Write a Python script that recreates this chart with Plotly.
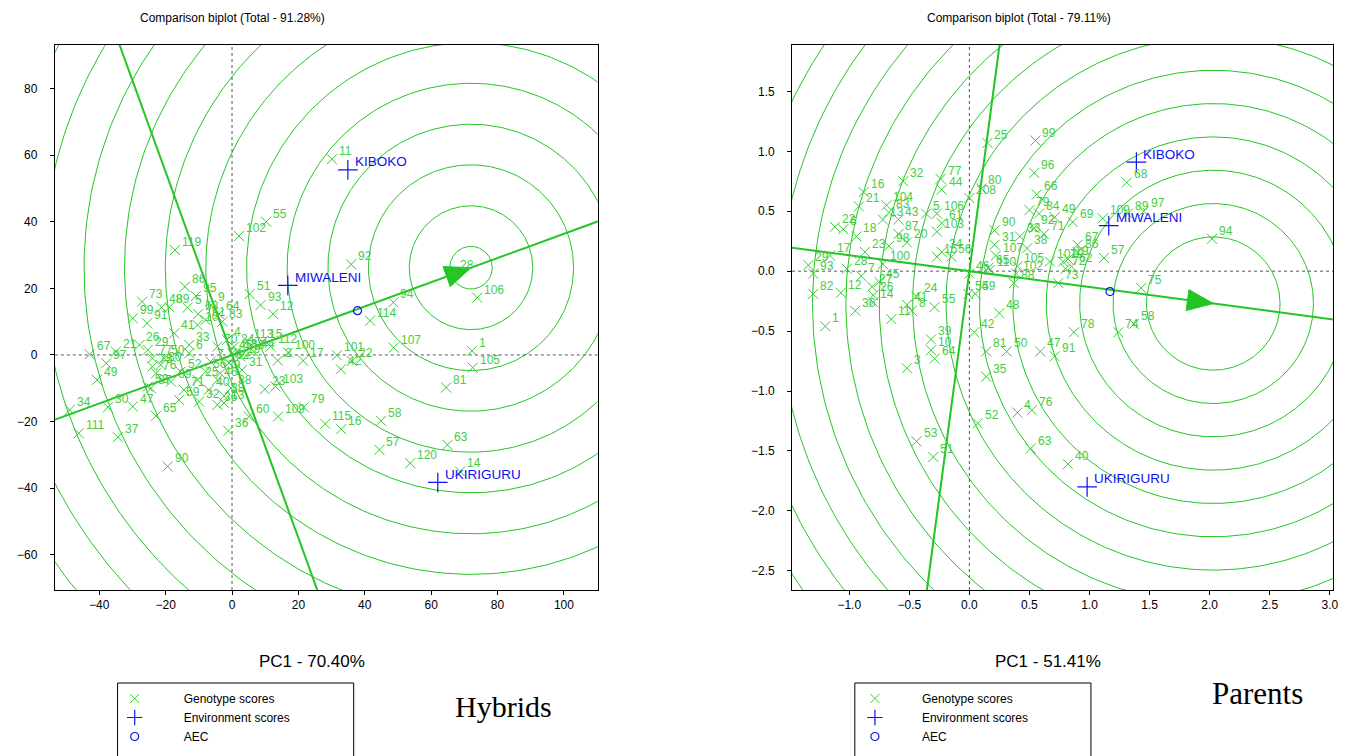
import numpy as np
import plotly.graph_objects as go

# ---------------- Hybrids (left) ----------------
H_LABELS = ["11","92","94","114","28","106","107","1","105","81","101","22","42","17","100","2","103","23",
            "60","109","79","36","115","16","58","57","120","63","14","55","102","51","93","12","119","86",
            "95","73","48","89","5","9","99","91","10","41","64","83","68","67","21","97","49","26","29","77",
            "50","80","6","33","76","75","53","87","69","25","46","56","59","32","65","47","30","34","111","37",
            "90","35","13","38","88","70","24","113","15","112","19","62","18","43","45","40","4","7","31","39",
            "44","52","61","71"]
H_PC1 = [30.1,35.9,48.6,41.6,66.5,73.9,48.7,72.3,72.5,64.5,31.6,36.1,32.8,21.4,16.9,13.8,13.1,9.9,
         5.1,13.9,21.6,-1.1,28.1,32.9,44.9,44.4,53.7,64.9,68.7,10.3,2.1,5.3,8.6,12.4,-17.2,-14.2,
         -10.9,-27.1,-21.2,-18.9,-13.4,-6.4,-29.9,-25.6,-10.4,-17.4,-3.9,-2.9,-10.2,-42.9,-35.0,-37.9,-40.7,-27.9,-25.4,-24.0,
         -20.4,-21.5,-12.9,-12.9,-22.9,-24.0,-25.4,-24.4,-18.4,-10.4,-4.4,-7.9,-16.0,-9.9,-22.9,-29.9,-37.4,-48.9,-46.2,-34.4,
         -19.4,-4.4,-2.4,-2.4,-0.3,-4.4,0.6,4.6,9.1,11.6,2.5,-0.9,1.5,3.5,0.0,-7.0,-1.5,-6.5,3.0,-3.5,
         6.5,-15.5,-8.0,-14.5]
H_PC2 = [58.8,27.2,15.8,10.3,24.6,17.2,2.2,1.2,-3.8,-9.8,-0.1,-1.8,-4.3,-1.7,0.7,-1.7,-9.5,-10.3,
         -18.5,-18.5,-15.7,-22.8,-20.7,-22.3,-19.8,-28.5,-32.5,-27.0,-35.0,40.0,35.7,18.3,15.0,12.3,31.5,20.5,
         17.7,16.0,14.3,14.3,14.2,15.0,11.0,9.5,9.0,6.5,12.3,10.0,12.3,0.2,1.0,-2.5,-7.5,3.0,1.5,-1.0,
         -1.0,-3.0,0.5,3.0,-5.5,-3.5,-9.5,-10.0,-8.0,-7.5,-7.5,-5.0,-13.5,-14.0,-18.3,-15.5,-15.7,-16.5,-23.5,-24.7,
         -33.5,-15.0,-14.4,-12.3,-9.9,2.5,2.5,4.0,4.0,2.5,-0.5,-2.4,1.0,0.5,0.5,-10.5,4.5,-2.0,-4.5,-5.5,
         1.0,-5.0,10.5,-10.5]
H_ENV = ["KIBOKO", "MIWALENI", "UKIRIGURU"]
H_ENV_PC1 = [34.9, 16.8, 62.0]
H_ENV_PC2 = [55.6, 20.9, -38.3]
H_AEC = [37.8, 13.3]
H_IDEAL = [72.0, 26.2]
H_RINGS = [6.4, 18.6, 30.9, 43.1, 55.4, 67.6, 79.9, 92.1, 104.4, 116.6, 128.9, 141.1, 153.4, 165.6]
H_XTICKS = [-40, -20, 0, 20, 40, 60, 80, 100]
H_YTICKS = [-60, -40, -20, 0, 20, 40, 60, 80]

# ---------------- Parents (right) ----------------
P_LABELS = ["16","21","32","104","83","13","43","5","22","6","18","87","20","98","17","23","100","29","93","28",
            "7","45","27","82","12","26","24","1","36","14","11","41","8","55","39","10","64","3","53","51",
            "25","99","77","44","80","108","96","66","79","84","49","69","109","90","33","92","71","31","38","107",
            "110","105","102","101","88","73","67","86","57","62","72","70","19","15","56","106","61","103","34","46",
            "65","54","59","48","42","81","50","47","91","78","35","4","76","52","63","40","68","89","97","94",
            "75","58","74"]
P_PC1 = [-0.88,-0.92,-0.55,-0.69,-0.67,-0.72,-0.59,-0.36,-1.12,-1.05,-0.94,-0.59,-0.52,-0.67,-1.16,-0.87,-0.72,-1.34,-1.30,-1.02,
         -0.90,-0.75,-0.81,-1.30,-1.07,-0.80,-0.44,-1.20,-0.95,-0.80,-0.65,-0.52,-0.48,-0.29,-0.32,-0.32,-0.29,-0.52,-0.44,-0.30,
         0.15,0.55,-0.24,-0.23,0.10,0.00,0.54,0.56,0.50,0.58,0.71,0.86,1.11,0.21,0.42,0.54,0.62,0.21,0.48,0.22,
         0.17,0.40,0.39,0.67,0.37,0.74,0.90,0.90,1.12,0.85,0.80,0.78,0.82,-0.27,-0.15,-0.27,-0.23,-0.27,-0.23,0.00,
         0.16,-0.01,0.05,0.25,0.04,0.14,0.31,0.59,0.71,0.87,0.14,0.40,0.52,0.07,0.51,0.82,1.31,1.32,1.45,2.02,
         1.43,1.37,1.24]
P_PC2 = [0.66,0.54,0.75,0.55,0.49,0.43,0.43,0.48,0.37,0.35,0.29,0.31,0.24,0.21,0.13,0.16,0.06,0.05,-0.02,0.02,
         -0.04,-0.09,-0.13,-0.19,-0.18,-0.20,-0.21,-0.46,-0.33,-0.26,-0.40,-0.28,-0.33,-0.30,-0.57,-0.66,-0.73,-0.81,-1.42,-1.55,
         1.07,1.09,0.77,0.68,0.69,0.61,0.82,0.64,0.51,0.48,0.45,0.41,0.44,0.34,0.29,0.36,0.31,0.22,0.19,0.13,
         0.01,0.04,-0.02,0.08,-0.10,-0.10,0.22,0.16,0.11,0.04,0.02,0.08,0.10,0.12,0.12,0.48,0.40,0.33,0.16,-0.02,
         0.03,-0.19,-0.19,-0.35,-0.51,-0.67,-0.67,-0.67,-0.71,-0.51,-0.88,-1.18,-1.16,-1.27,-1.48,-1.61,0.74,0.48,0.50,0.27,
         -0.14,-0.44,-0.51]
P_ENV = ["KIBOKO", "MIWALENI", "UKIRIGURU"]
P_ENV_PC1 = [1.39, 1.16, 0.98]
P_ENV_PC2 = [0.91, 0.38, -1.80]
P_AEC = [1.17, -0.17]
P_IDEAL = [2.03, -0.27]
P_RINGS = [0.556, 0.834, 1.112, 1.390, 1.668, 1.946, 2.224, 2.502, 2.780, 3.058, 3.336, 3.614, 3.892, 4.170]
P_XTICKS = [-1.0, -0.5, 0.0, 0.5, 1.0, 1.5, 2.0, 2.5, 3.0]
P_YTICKS = [-2.5, -2.0, -1.5, -1.0, -0.5, 0.0, 0.5, 1.0, 1.5]

GREEN = "#33CC33"
LABELG = "#44CC44"
LINEG = "#22C522"
BLUE = "#1010F0"
FONT = "Arial, Liberation Sans, sans-serif"

W, Hh = 1352, 756
panels = [
    dict(px0=55, px1=600, xr=[-53.4, 110.2], yr=[-70.6, 93.1]),
    dict(px0=795, px1=1338, xr=[-1.476, 3.027], yr=[-2.66, 1.887]),
]
py0, py1 = 45, 590

fig = go.Figure()


def add_panel(idx, labels, pc1, pc2, env, epc1, epc2, aec, ideal, rings, arrow_len, arrow_hw, legend_name):
    xa = "x" if idx == 0 else "x2"
    ya = "y" if idx == 0 else "y2"
    xr = panels[idx]["xr"]
    yr = panels[idx]["yr"]
    t = np.linspace(0, 2 * np.pi, 361)
    cx, cy = ideal
    # concentric circles
    for r in rings:
        fig.add_trace(go.Scatter(x=cx + r * np.cos(t), y=cy + r * np.sin(t), mode="lines",
                                 line=dict(color=LINEG, width=1), xaxis=xa, yaxis=ya,
                                 showlegend=False, hoverinfo="skip"))
    # dotted axes
    fig.add_trace(go.Scatter(x=[xr[0], xr[1]], y=[0, 0], mode="lines",
                             line=dict(color="#555555", width=1, dash="dot"), xaxis=xa, yaxis=ya,
                             showlegend=False, hoverinfo="skip"))
    fig.add_trace(go.Scatter(x=[0, 0], y=[yr[0], yr[1]], mode="lines",
                             line=dict(color="#555555", width=1, dash="dot"), xaxis=xa, yaxis=ya,
                             showlegend=False, hoverinfo="skip"))
    # AEC abscissa (through origin and ideal point) and ordinate
    u = np.array(ideal) / np.hypot(*ideal)
    n = np.array([-u[1], u[0]])
    big = 10 * max(abs(xr[0]), abs(xr[1]), abs(yr[0]), abs(yr[1]))
    fig.add_trace(go.Scatter(x=[-big * u[0], big * u[0]], y=[-big * u[1], big * u[1]], mode="lines",
                             line=dict(color=LINEG, width=2), xaxis=xa, yaxis=ya,
                             showlegend=False, hoverinfo="skip"))
    fig.add_trace(go.Scatter(x=[-big * n[0], big * n[0]], y=[-big * n[1], big * n[1]], mode="lines",
                             line=dict(color=LINEG, width=2), xaxis=xa, yaxis=ya,
                             showlegend=False, hoverinfo="skip"))
    # arrow head at ideal point
    tip = np.array(ideal)
    base = tip - arrow_len * u
    tri = np.array([tip, base + arrow_hw * n, base - arrow_hw * n, tip])
    fig.add_trace(go.Scatter(x=tri[:, 0], y=tri[:, 1], mode="lines", fill="toself",
                             fillcolor=LINEG, line=dict(color=LINEG, width=1), xaxis=xa, yaxis=ya,
                             showlegend=False, hoverinfo="skip"))
    # genotypes
    fig.add_trace(go.Scatter(x=pc1, y=pc2, mode="markers",
                             marker=dict(symbol="x-thin", size=10, line=dict(color=GREEN, width=1)),
                             xaxis=xa, yaxis=ya, showlegend=False))
    for lab, gx, gy in zip(labels, pc1, pc2):
        fig.add_annotation(x=gx, y=gy, xref=xa, yref=ya, text=lab, showarrow=False,
                           xanchor="left", yanchor="middle", xshift=5, yshift=8,
                           font=dict(family=FONT, size=12, color=LABELG))
    # environments
    fig.add_trace(go.Scatter(x=epc1, y=epc2, mode="markers",
                             marker=dict(symbol="cross-thin", size=14, line=dict(color=BLUE, width=1.2)),
                             xaxis=xa, yaxis=ya, showlegend=False))
    for lab, gx, gy in zip(env, epc1, epc2):
        fig.add_annotation(x=gx, y=gy, xref=xa, yref=ya, text=lab, showarrow=False,
                           xanchor="left", yanchor="middle", xshift=5, yshift=8,
                           font=dict(family=FONT, size=13.5, color=BLUE))
    # AEC point
    fig.add_trace(go.Scatter(x=[aec[0]], y=[aec[1]], mode="markers",
                             marker=dict(symbol="circle-open", size=8, color=BLUE, line=dict(width=1.2)),
                             xaxis=xa, yaxis=ya, showlegend=False))
    # legend-only entries
    fig.add_trace(go.Scatter(x=[None], y=[None], mode="markers", name="Genotype scores",
                             marker=dict(symbol="x-thin", size=9, line=dict(color=GREEN, width=1)),
                             xaxis=xa, yaxis=ya, legend=legend_name))
    fig.add_trace(go.Scatter(x=[None], y=[None], mode="markers", name="Environment scores",
                             marker=dict(symbol="cross-thin", size=11, line=dict(color=BLUE, width=1.2)),
                             xaxis=xa, yaxis=ya, legend=legend_name))
    fig.add_trace(go.Scatter(x=[None], y=[None], mode="markers", name="AEC",
                             marker=dict(symbol="circle-open", size=8, color=BLUE, line=dict(width=1.2)),
                             xaxis=xa, yaxis=ya, legend=legend_name))


add_panel(0, H_LABELS, H_PC1, H_PC2, H_ENV, H_ENV_PC1, H_ENV_PC2, H_AEC, H_IDEAL, H_RINGS,
          7.8, 3.2, "legend")
add_panel(1, P_LABELS, P_PC1, P_PC2, P_ENV, P_ENV_PC1, P_ENV_PC2, P_AEC, P_IDEAL, P_RINGS,
          0.216, 0.088, "legend2")

axis_common = dict(showgrid=False, zeroline=False, showline=True, linecolor="black", linewidth=1,
                   mirror=True, ticks="outside", ticklen=4, tickcolor="black",
                   tickfont=dict(family=FONT, size=12, color="black"))

ydom = [1 - py1 / Hh, 1 - py0 / Hh]
fig.update_layout(
    width=W, height=Hh, margin=dict(l=0, r=0, t=0, b=0),
    paper_bgcolor="white", plot_bgcolor="white",
    xaxis=dict(domain=[panels[0]["px0"] / W, panels[0]["px1"] / W], range=panels[0]["xr"],
               tickvals=H_XTICKS, anchor="y", **axis_common),
    yaxis=dict(domain=ydom, range=panels[0]["yr"], tickvals=H_YTICKS, anchor="x",
               ticklabelstandoff=10, **axis_common),
    xaxis2=dict(domain=[panels[1]["px0"] / W, panels[1]["px1"] / W], range=panels[1]["xr"],
                tickvals=P_XTICKS, tickformat=".1f", anchor="y2", **axis_common),
    yaxis2=dict(domain=ydom, range=panels[1]["yr"], tickvals=P_YTICKS, tickformat=".1f", anchor="x2",
                ticklabelstandoff=10, **axis_common),
    legend=dict(x=86 / W, y=1 - 684 / Hh, xanchor="left", yanchor="top", itemwidth=88,
                font=dict(family=FONT, size=12, color="black"), bgcolor="rgba(0,0,0,0)",
                tracegroupgap=0),
    legend2=dict(x=831 / W, y=1 - 684 / Hh, xanchor="left", yanchor="top", itemwidth=84,
                 font=dict(family=FONT, size=12, color="black"), bgcolor="rgba(0,0,0,0)",
                 tracegroupgap=0),
    showlegend=True,
)

annots = [
    dict(text="Comparison biplot (Total - 91.28%)", x=233 / W, y=1 - 18 / Hh, size=12, family=FONT),
    dict(text="Comparison biplot (Total - 79.11%)", x=1023 / W, y=1 - 18 / Hh, size=12, family=FONT),
    dict(text="PC1 - 70.40%", x=313 / W, y=1 - 661 / Hh, size=17, family=FONT),
    dict(text="PC1 - 51.41%", x=1052 / W, y=1 - 661 / Hh, size=17, family=FONT),
    dict(text="Hybrids", x=505 / W, y=1 - 706 / Hh, size=30, family="Liberation Serif, Times New Roman, serif"),
    dict(text="Parents", x=1262 / W, y=1 - 693 / Hh, size=31, family="Liberation Serif, Times New Roman, serif"),
]
for a in annots:
    fig.add_annotation(text=a["text"], x=a["x"], y=a["y"], xref="paper", yref="paper",
                       xanchor="center", yanchor="middle", showarrow=False,
                       font=dict(family=a["family"], size=a["size"], color="black"))

# legend frames
for (x0, x1) in [(118, 355), (858, 1095)]:
    fig.add_shape(type="rect", xref="paper", yref="paper", x0=x0 / W, x1=x1 / W,
                  y0=-0.05, y1=1 - 683 / Hh, line=dict(color="black", width=1), fillcolor="rgba(0,0,0,0)")

fig.write_html("out.html")
